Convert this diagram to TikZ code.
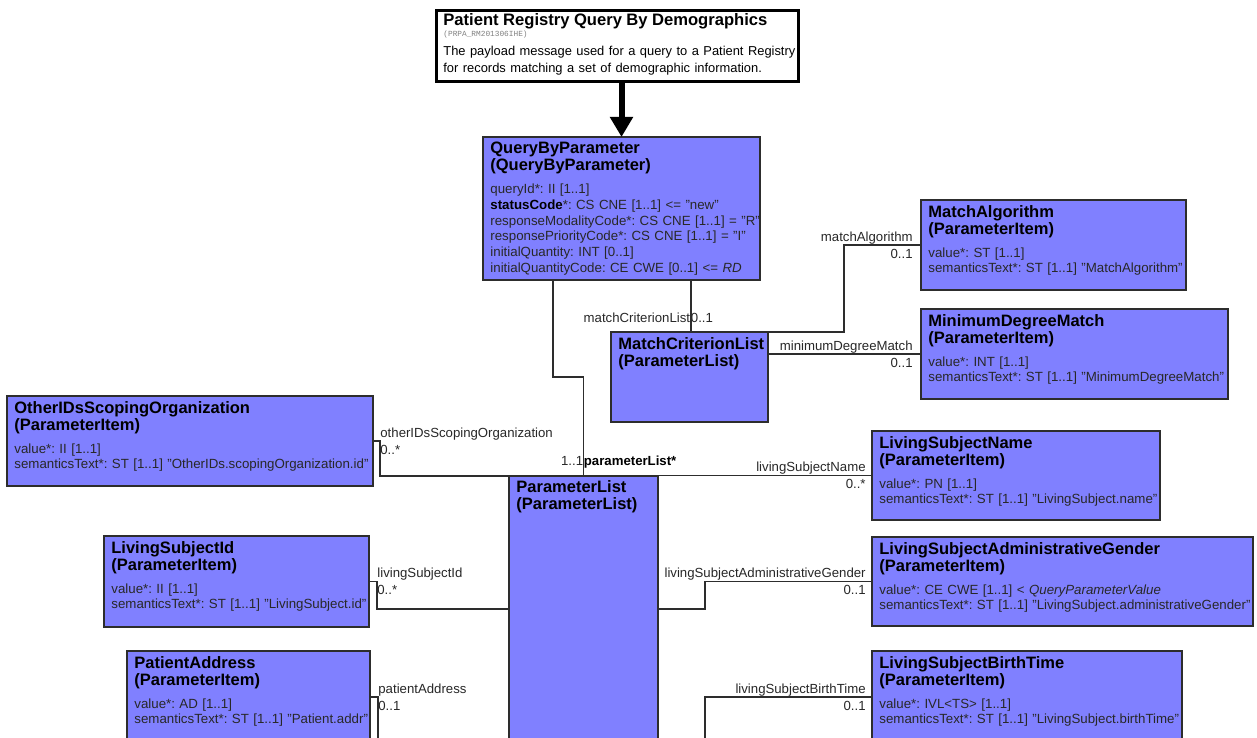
\documentclass[tikz,border=0pt]{standalone}
\usepackage{fontspec}
\setmainfont{Liberation Sans}
\setmonofont{Liberation Mono}
\usetikzlibrary{arrows.meta,calc}
\frenchspacing

\definecolor{clsfill}{RGB}{128,128,255}
\definecolor{clsline}{RGB}{45,45,45}
\definecolor{lblgray}{RGB}{40,40,40}

\newcommand{\clshead}[2]{{\fontsize{8.25}{8.5}\selectfont\bfseries\color{black}#1\\(#2)\par}\vspace{3.6pt}}

\tikzset{
  cls/.style={draw=clsline, fill=clsfill, line width=0.7pt, anchor=north west, inner sep=0pt, outer sep=0pt},
  clstxt/.style={anchor=north west, inner sep=0pt, align=left, text width=200pt, text=lblgray,
    font=\fontsize{6.65}{7.85}\selectfont, xshift=3.5pt, yshift=-2.5pt},
  assoc/.style={draw=clsline, line width=0.6pt},
  lbl/.style={inner sep=0pt, text=lblgray, font=\fontsize{6.6}{7.85}\selectfont},
}

\begin{document}
\begin{tikzpicture}[x=0.5pt, y=-0.5pt]
\useasboundingbox (0,0) rectangle (1257,738);
\clip (0,0) rectangle (1257,738);
\fill[white] (0,0) rectangle (1257,738);

% entry point
\node[draw=black, line width=1.5pt, fill=white, anchor=north west, inner sep=0pt,
  minimum width=181pt, minimum height=35.5pt] (title) at (435,9) {};
\node[clstxt, text=black, xshift=0.5pt, yshift=0.5pt] (titleT) at (title.north west) {%
{\fontsize{8.3}{8.3}\selectfont\bfseries Patient Registry Query By Demographics\par}
{\fontsize{3.9}{5.5}\selectfont\ttfamily\color{gray}(PRPA\_RM201306IHE)\par}\vspace{1pt}
{\fontsize{6.45}{8.5}\selectfont The payload message used for a query to a Patient Registry\\
for records matching a set of demographic information.\par}};

\node[cls, minimum width=138.5pt, minimum height=71.5pt] (qbp) at (483,137) {};
\node[clstxt] (qbpT) at (qbp.north west) {\clshead{QueryByParameter}{QueryByParameter}
queryId*: II [1..1]\\
{\bfseries\color{black}statusCode}*: CS CNE [1..1] <= "new"\\
responseModalityCode*: CS CNE [1..1] = "R"\\
responsePriorityCode*: CS CNE [1..1] = "I"\\
initialQuantity: INT [0..1]\\
initialQuantityCode: CE CWE [0..1] <= \textit{RD}};

\draw[line width=3pt, -{Triangle[width=11pt,length=10pt]}] (qbp.north |- title.south) -- (qbp.north);

\node[cls, minimum width=78.5pt, minimum height=45pt] (matchCrit) at (611,332) {};
\node[clstxt] (matchCritT) at (matchCrit.north west) {\clshead{MatchCriterionList}{ParameterList}};

\node[cls, minimum width=132.5pt, minimum height=45pt] (matchAlg) at (921,200) {};
\node[clstxt] (matchAlgT) at (matchAlg.north west) {\clshead{MatchAlgorithm}{ParameterItem}
value*: ST [1..1]\\
semanticsText*: ST [1..1] "MatchAlgorithm"};

\node[cls, minimum width=153.5pt, minimum height=45pt] (minDeg) at (921,309) {};
\node[clstxt] (minDegT) at (minDeg.north west) {\clshead{MinimumDegreeMatch}{ParameterItem}
value*: INT [1..1]\\
semanticsText*: ST [1..1] "MinimumDegreeMatch"};

\node[cls, minimum width=74.5pt, minimum height=150pt] (paramList) at (509,476) {};
\node[clstxt, yshift=0.5pt] (paramListT) at (paramList.north west) {\clshead{ParameterList}{ParameterList}};

\node[cls, minimum width=183pt, minimum height=45pt] (otherIDs) at (7,396) {};
\node[clstxt] (otherIDsT) at (otherIDs.north west) {\clshead{OtherIDsScopingOrganization}{ParameterItem}
value*: II [1..1]\\
semanticsText*: ST [1..1] "OtherIDs.scopingOrganization.id"};

\node[cls, minimum width=144pt, minimum height=44.5pt] (subjName) at (872,431) {};
\node[clstxt] (subjNameT) at (subjName.north west) {\clshead{LivingSubjectName}{ParameterItem}
value*: PN [1..1]\\
semanticsText*: ST [1..1] "LivingSubject.name"};

\node[cls, minimum width=132.5pt, minimum height=45.5pt] (subjId) at (104,536) {};
\node[clstxt] (subjIdT) at (subjId.north west) {\clshead{LivingSubjectId}{ParameterItem}
value*: II [1..1]\\
semanticsText*: ST [1..1] "LivingSubject.id"};

\node[cls, minimum width=190.5pt, minimum height=44.5pt] (subjGender) at (872,537) {};
\node[clstxt] (subjGenderT) at (subjGender.north west) {\clshead{LivingSubjectAdministrativeGender}{ParameterItem}
value*: CE CWE [1..1] < \textit{QueryParameterValue}\\
semanticsText*: ST [1..1] "LivingSubject.administrativeGender"};

\node[cls, minimum width=121.5pt, minimum height=46pt] (patAddr) at (127,651) {};
\node[clstxt] (patAddrT) at (patAddr.north west) {\clshead{PatientAddress}{ParameterItem}
value*: AD [1..1]\\
semanticsText*: ST [1..1] "Patient.addr"};

\node[cls, minimum width=155pt, minimum height=46pt] (subjBirth) at (872,651) {};
\node[clstxt] (subjBirthT) at (subjBirth.north west) {\clshead{LivingSubjectBirthTime}{ParameterItem}
value*: IVL<TS> [1..1]\\
semanticsText*: ST [1..1] "LivingSubject.birthTime"};

% connectors
\coordinate (addrEnd) at (378,760);
\coordinate (birthEnd) at (705,760);

\draw[assoc] (paramList.north) -- ++(0,-99) -| ([xshift=35pt]qbp.south west);
\draw[assoc] ([xshift=0.75pt]matchCrit.north) -- ([xshift=0.75pt]matchCrit.north |- qbp.south);
\draw[assoc] (matchCrit.north east) -- ++(76,0) |- (matchAlg.west);
\draw[assoc] (minDeg.west) -- (minDeg.west -| matchCrit.east);
\draw[assoc] (otherIDs.east) -- ++(7,0) |- (paramList.north west);
\draw[assoc] (subjName.west) -- (subjName.west -| paramList.east);
\draw[assoc] (subjId.east) -- ++(8,0) |- ([yshift=-66.5pt]paramList.north west);
\draw[assoc] (subjGender.west) -- ++(-167,0) |- ([yshift=-66.5pt]paramList.north east);
\draw[assoc] (patAddr.east) -| (addrEnd);
\draw[assoc] (subjBirth.west) -| (birthEnd);

% role names and multiplicities
\node[lbl, anchor=base east] (lPl) at ($(paramList.north)+(0,-11)$) {1..1};
\node[lbl, anchor=base west, font=\fontsize{6.6}{7.85}\selectfont\bfseries, text=black] (lPlR) at ($(paramList.north)+(0,-11)$) {parameterList*};
\node[lbl, anchor=base east] (lMc) at ($(matchCrit.north)+(1,-10)$) {matchCriterionList};
\node[lbl, anchor=base west] (lMcM) at ($(matchCrit.north)+(1,-10)$) {0..1};
\node[lbl, anchor=base east] (lMa) at ($(matchAlg.west)+(-8,-4)$) {matchAlgorithm};
\node[lbl, anchor=base east] (lMaM) at ($(matchAlg.west)+(-8,13)$) {0..1};
\node[lbl, anchor=base east] (lMd) at ($(minDeg.west)+(-8,-4)$) {minimumDegreeMatch};
\node[lbl, anchor=base east] (lMdM) at ($(minDeg.west)+(-8,13)$) {0..1};
\node[lbl, anchor=base west] (lOi) at ($(otherIDs.east)+(7,-4)$) {otherIDsScopingOrganization};
\node[lbl, anchor=base west] (lOiM) at ($(otherIDs.east)+(7,13)$) {0..*};
\node[lbl, anchor=base east] (lSn) at ($(subjName.west)+(-6,-4)$) {livingSubjectName};
\node[lbl, anchor=base east] (lSnM) at ($(subjName.west)+(-6,13)$) {0..*};
\node[lbl, anchor=base west] (lSi) at ($(subjId.east)+(8,-4)$) {livingSubjectId};
\node[lbl, anchor=base west] (lSiM) at ($(subjId.east)+(8,13)$) {0..*};
\node[lbl, anchor=base east] (lSg) at ($(subjGender.west)+(-6,-4)$) {livingSubjectAdministrativeGender};
\node[lbl, anchor=base east] (lSgM) at ($(subjGender.west)+(-6,13)$) {0..1};
\node[lbl, anchor=base west] (lPa) at ($(patAddr.east)+(8,-4)$) {patientAddress};
\node[lbl, anchor=base west] (lPaM) at ($(patAddr.east)+(8,13)$) {0..1};
\node[lbl, anchor=base east] (lSb) at ($(subjBirth.west)+(-6,-4)$) {livingSubjectBirthTime};
\node[lbl, anchor=base east] (lSbM) at ($(subjBirth.west)+(-6,13)$) {0..1};

\end{tikzpicture}
\end{document}
